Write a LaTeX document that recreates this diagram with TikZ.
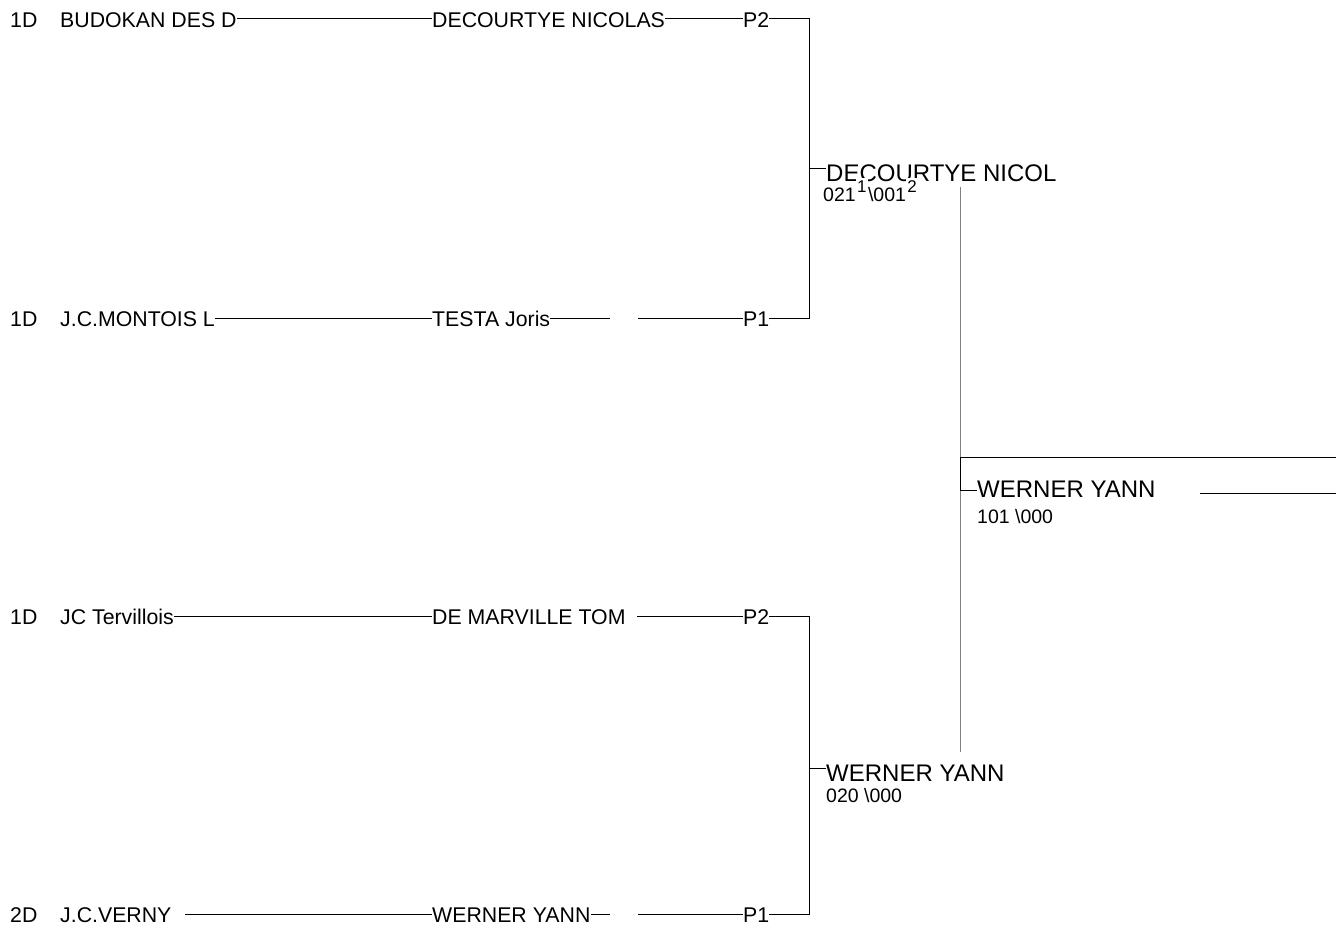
\documentclass[tikz,border=0pt]{standalone}
\usepackage{fontspec}
\setmainfont{Liberation Sans}
\usetikzlibrary{positioning,calc}

\begin{document}
\begin{tikzpicture}[x=1pt, y=-1pt,
    entry/.style={anchor=base west, inner sep=0pt, text height=17pt, text depth=0pt, font=\fontsize{21.3}{24}\selectfont},
    winner/.style={anchor=base west, inner sep=0pt, font=\fontsize{24}{28}\selectfont},
    score/.style={anchor=base west, inner sep=0pt, font=\fontsize{19.5}{22}\selectfont},
    supbox/.style={anchor=base west, fill=white, inner xsep=1pt, inner ysep=0pt, text depth=1pt, font=\fontsize{17}{19}\selectfont},
    link/.style={draw=black, line width=0.8pt},
    rail/.style={draw=black!50, line width=1pt},
]

\useasboundingbox (0,0) rectangle (1336,927);

% Round 1, top half
\node[entry] (seed1) at (10,27) {1D};
\node[entry] (club1) at (60,27) {BUDOKAN DES D};
\node[entry] (name1) at (432,27) {DECOURTYE NICOLAS};
\node[entry] (pool1) at (743,27) {P2};

\node[entry] (seed2) at (10,326.5) {1D};
\node[entry] (club2) at (60,326.5) {J.C.MONTOIS L};
\node[entry] (name2) at (432,326.5) {TESTA Joris};
\node[entry] (pool2) at (743,326.5) {P1};

% Round 1, bottom half
\node[entry] (seed3) at (10,624.5) {1D};
\node[entry] (club3) at (60,624.5) {JC Tervillois};
\node[entry] (name3) at (432,624.5) {DE MARVILLE TOM};
\node[entry] (pool3) at (743,624.5) {P2};

\node[entry] (seed4) at (10,922.5) {2D};
\node[entry] (club4) at (60,922.5) {J.C.VERNY};
\node[entry] (name4) at (432,922.5) {WERNER YANN};
\node[entry] (pool4) at (743,922.5) {P1};

% Gaps in the lines
\coordinate (gap2a) at (610,0);
\coordinate (gap2b) at (638,0);
\coordinate (gap3b) at (637,0);
\coordinate (gap4s) at (185,0);

\draw[link] (club1.east) -- (name1.west);
\draw[link] (name1.east) -- (pool1.west);
\draw[link] (club2.east) -- (name2.west);
\draw[link] (name2.east) -- (gap2a |- name2.east);
\draw[link] (gap2b |- pool2.west) -- (pool2.west);
\draw[link] (club3.east) -- (name3.west);
\draw[link] (gap3b |- pool3.west) -- (pool3.west);
\draw[link] (gap4s |- name4.west) -- (name4.west);
\draw[link] (name4.east) -- (gap2a |- name4.east);
\draw[link] (gap2b |- pool4.west) -- (pool4.west);

% Brackets
\coordinate (brA) at (809,0);
\draw[link] (pool1.east) -- (pool1.east -| brA) -- (pool2.east -| brA) -- (pool2.east);
\draw[link] (pool3.east) -- (pool3.east -| brA) -- (pool4.east -| brA) -- (pool4.east);

% Round 2
\node[winner] (win1) at (826,181) {DECOURTYE NICOL};
\node[winner] (win2) at (826,781) {WERNER YANN};
\coordinate (stub1) at ([yshift=13pt]win1.base west);
\coordinate (stub2) at ([yshift=13pt]win2.base west);
\draw[link] (stub1 -| brA) -- (stub1);
\draw[link] (stub2 -| brA) -- (stub2);

\node[score] (res1) at (823,201) {021};
\node[supbox, text height=14pt] (sup1) at ([yshift=9pt]res1.base east) {1};
\node[score] (res1b) at (sup1.base east |- res1.base) {\textbackslash 001};
\node[supbox, text height=14pt] (sup2) at ([yshift=9pt]res1b.base east) {2};
\node[score] (res2) at (826,802) {020 \textbackslash 000};

% Final
\coordinate (railtop) at (960,187);
\coordinate (railbot) at (960,752);
\draw[rail] (railtop) -- (railbot);

\node[winner] (win3) at (977,497) {WERNER YANN};
\node[score] (res3) at (977,523) {101 \textbackslash 000};
\coordinate (topR) at (1336,457);
\coordinate (stub3) at ([yshift=7pt]win3.base west);
\coordinate (tail3a) at (1200,493);
\coordinate (tail3b) at (1336,493);
\draw[link] (topR) -- (topR -| railtop) -- (stub3 -| railtop) -- (stub3);
\draw[link] (tail3a) -- (tail3b);

\end{tikzpicture}
\end{document}
